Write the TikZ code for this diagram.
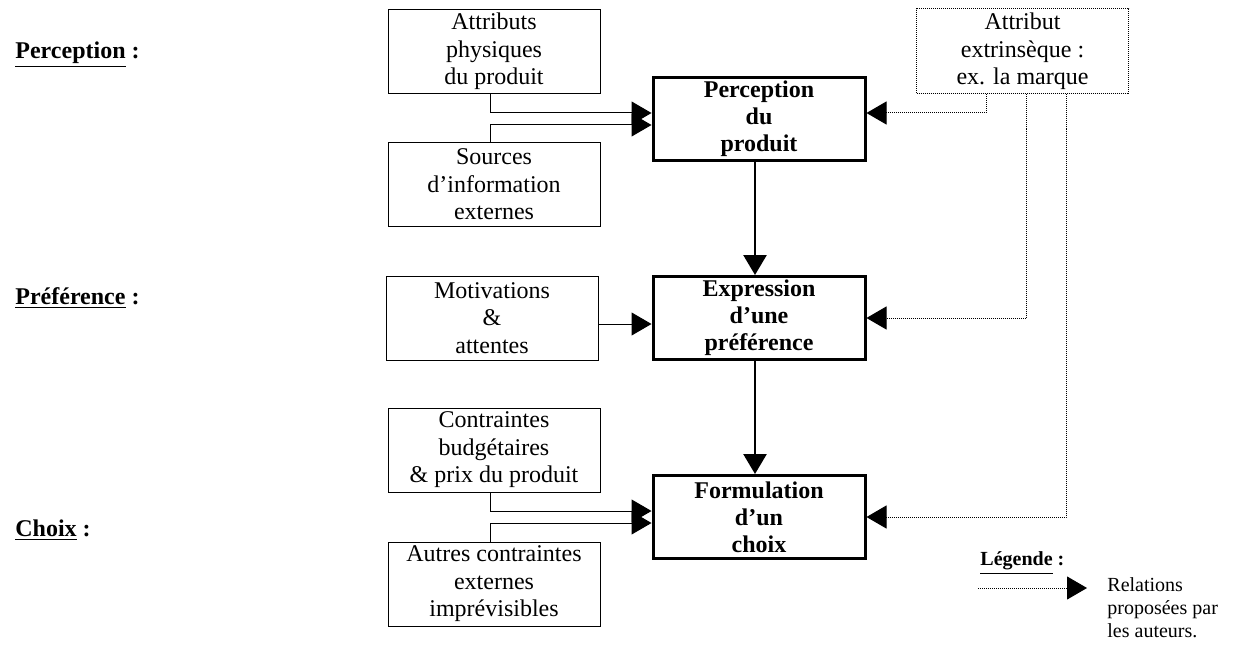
\documentclass[tikz,border=0pt]{standalone}
\usepackage{fontspec}
\setmainfont{Liberation Serif}
\usetikzlibrary{arrows.meta,positioning}

\begin{document}
\begin{tikzpicture}[x=0.5pt,y=-0.5pt]
    \tikzstyle{block} = [draw, rectangle, line width=0.5pt, minimum width=106pt, minimum height=42pt, inner sep=0pt, align=center, font=\fontsize{12}{13.8}\selectfont]
    \tikzstyle{mainblock} = [block, line width=1.5pt, minimum height=41.5pt, font=\fontsize{12}{13.5}\selectfont\bfseries]
    \tikzstyle{dotblock} = [block, dash pattern=on 0.5pt off 0.5pt, minimum height=42.5pt]
    \tikzstyle{stagelabel} = [anchor=west, inner sep=0pt, font=\fontsize{12}{13.8}\selectfont\bfseries]
    \tikzstyle{arr} = [-{Triangle[length=10pt,width=11.5pt]}, line width=0.5pt]
    \tikzstyle{mainarr} = [arr, line width=1.3pt]
    \tikzstyle{dotarr} = [arr, dash pattern=on 0.5pt off 0.5pt]
    \useasboundingbox (0,0) rectangle (1236,647);

    % central column
    \node [mainblock] (perc) at (759,119) {Perception\\du\\produit};
    \node [mainblock, below = 56.5pt of perc] (expr) {Expression\\d’une\\préférence};
    \node [mainblock, below = 56.5pt of expr] (form) {Formulation\\d’un\\choix};

    % influences on the left
    \node [block] (attr) at (494,51.5) {Attributs\\physiques\\du produit};
    \node [block, below = 24pt of attr] (src) {Sources\\d’information\\externes};
    \node [block, left = 26.5pt of expr] (motiv) {Motivations\\\&\\attentes};
    \node [block] (contr) at (494,450) {Contraintes\\budgétaires\\\& prix du produit};
    \node [block, below = 24.5pt of contr] (autres) {Autres contraintes\\externes\\imprévisibles};

    % extrinsic attribute
    \node [dotblock] (ext) at (1022.5,51.5) {Attribut\\extrinsèque :\\ex. la marque};

    % stages
    \node [stagelabel] (lperc) at (15,55) {\underline{Perception} :};
    \node [stagelabel] (lpref) at (15,298) {\underline{Préférence} :};
    \node [stagelabel] (lchoix) at (15,530) {\underline{Choix} :};

    % legend
    \node [anchor=west, inner sep=0pt, font=\fontsize{10}{11.5}\selectfont\bfseries] (leg) at (980,563) {\underline{Légende} :};
    \coordinate (legA) at (978,588);
    \coordinate (legB) at (1087,588);
    \node [anchor=north west, align=left, inner sep=0pt, font=\fontsize{10}{11.5}\selectfont] (legtext) at (1107,577) {Relations\\proposées par\\les auteurs.};

    \draw [arr] ([xshift=-2pt]attr.south) |- ([yshift=3pt]perc.west);
    \draw [arr] ([xshift=-2pt]src.north) |- ([yshift=-3pt]perc.west);
    \draw [arr] ([yshift=-3pt]motiv.east) -- ([yshift=-3pt]expr.west);
    \draw [arr] ([xshift=-2pt]contr.south) |- ([yshift=3pt]form.west);
    \draw [arr] ([xshift=-2pt]autres.north) |- ([yshift=-3pt]form.west);
    \draw [mainarr] ([xshift=-2pt]perc.south) -- ([xshift=-2pt]expr.north);
    \draw [mainarr] ([xshift=-2pt]expr.south) -- ([xshift=-2pt]form.north);
    \draw [dotarr] ([xshift=-18pt]ext.south) |- ([yshift=3pt]perc.east);
    \draw [dotarr] ([xshift=2pt]ext.south) |- (expr.east);
    \draw [dotarr] ([xshift=22pt]ext.south) |- (form.east);
    \draw [dotarr] (legA) -- (legB);
\end{tikzpicture}
\end{document}
